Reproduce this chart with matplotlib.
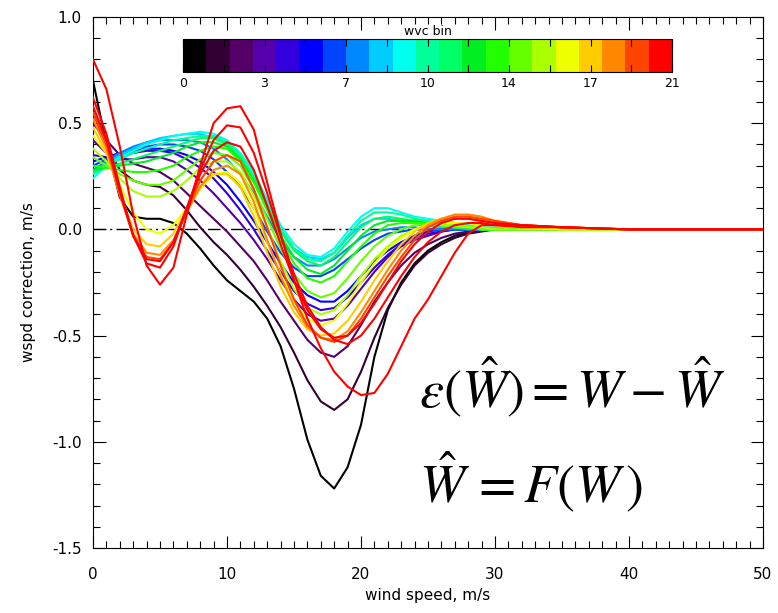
import matplotlib
matplotlib.use("Agg")
import matplotlib.pyplot as plt
from matplotlib.colors import ListedColormap, BoundaryNorm
from matplotlib.colorbar import ColorbarBase
from matplotlib.ticker import MultipleLocator

plt.rcParams["mathtext.fontset"] = "stix"

wspd = [0, 1, 2, 3, 4, 5, 6, 7, 8, 9, 10, 11, 12, 13, 14, 15, 16, 17, 18, 19,
        20, 21, 22, 23, 24, 25, 26, 27, 28, 29, 30, 32, 35, 40, 50]

bin0 = [0.70, 0.40, 0.15, 0.06, 0.05, 0.05, 0.03, -0.02, -0.09, -0.17, -0.24, -0.29, -0.34, -0.42, -0.55, -0.75, -0.99, -1.16, -1.22, -1.12, -0.92, -0.60, -0.38, -0.25, -0.16, -0.10, -0.06, -0.03, -0.015, 0.0, 0.0, 0.0, 0.0, 0.0, 0.0]
bin1 = [0.55, 0.40, 0.28, 0.23, 0.21, 0.20, 0.16, 0.09, 0.01, -0.06, -0.12, -0.19, -0.27, -0.36, -0.46, -0.58, -0.71, -0.81, -0.85, -0.80, -0.67, -0.51, -0.37, -0.26, -0.17, -0.11, -0.07, -0.04, -0.02, -0.01, 0.0, 0.0, 0.0, 0.0, 0.0]
bin2 = [0.50, 0.42, 0.35, 0.31, 0.29, 0.27, 0.23, 0.17, 0.11, 0.05, -0.01, -0.08, -0.15, -0.24, -0.34, -0.43, -0.52, -0.58, -0.60, -0.55, -0.45, -0.34, -0.25, -0.17, -0.11, -0.07, -0.04, -0.02, -0.01, 0.0, 0.0, 0.0, 0.0, 0.0, 0.0]
bin3 = [0.42, 0.36, 0.33, 0.33, 0.34, 0.34, 0.32, 0.28, 0.23, 0.17, 0.10, 0.03, -0.05, -0.14, -0.24, -0.33, -0.40, -0.43, -0.42, -0.36, -0.28, -0.20, -0.13, -0.08, -0.05, -0.03, -0.01, 0.0, 0.0, 0.0, 0.0, 0.0, 0.0, 0.0, 0.0]
bin4 = [0.35, 0.34, 0.35, 0.36, 0.37, 0.37, 0.36, 0.33, 0.29, 0.24, 0.17, 0.09, 0.00, -0.10, -0.20, -0.29, -0.35, -0.38, -0.37, -0.32, -0.25, -0.18, -0.12, -0.07, -0.04, -0.02, -0.01, 0.0, 0.0, 0.0, 0.0, 0.0, 0.0, 0.0, 0.0]
bin5 = [0.32, 0.34, 0.36, 0.37, 0.38, 0.38, 0.37, 0.35, 0.32, 0.27, 0.21, 0.13, 0.04, -0.06, -0.16, -0.25, -0.31, -0.34, -0.34, -0.29, -0.22, -0.15, -0.10, -0.06, -0.03, -0.01, 0.0, 0.0, 0.0, 0.0, 0.0, 0.0, 0.0, 0.0, 0.0]
bin6 = [0.30, 0.33, 0.36, 0.38, 0.39, 0.40, 0.40, 0.39, 0.37, 0.33, 0.27, 0.20, 0.10, -0.01, -0.11, -0.18, -0.22, -0.22, -0.19, -0.14, -0.09, -0.05, -0.02, -0.01, 0.0, 0.0, 0.0, 0.0, 0.0, 0.0, 0.0, 0.0, 0.0, 0.0, 0.0]
bin7 = [0.28, 0.32, 0.36, 0.39, 0.41, 0.42, 0.42, 0.42, 0.41, 0.38, 0.33, 0.26, 0.17, 0.06, -0.05, -0.13, -0.17, -0.17, -0.14, -0.09, -0.04, -0.01, 0.0, 0.01, 0.01, 0.0, 0.0, 0.0, 0.0, 0.0, 0.0, 0.0, 0.0, 0.0, 0.0]
bin8 = [0.26, 0.31, 0.35, 0.38, 0.41, 0.43, 0.44, 0.45, 0.45, 0.43, 0.40, 0.33, 0.24, 0.12, 0.00, -0.09, -0.13, -0.14, -0.11, -0.04, 0.02, 0.05, 0.05, 0.04, 0.03, 0.02, 0.01, 0.01, 0.0, 0.0, 0.0, 0.0, 0.0, 0.0, 0.0]
bin9 = [0.24, 0.30, 0.34, 0.37, 0.40, 0.42, 0.44, 0.45, 0.46, 0.45, 0.42, 0.36, 0.27, 0.14, 0.02, -0.07, -0.12, -0.13, -0.09, -0.01, 0.06, 0.10, 0.10, 0.08, 0.06, 0.05, 0.04, 0.03, 0.02, 0.01, 0.01, 0.0, 0.0, 0.0, 0.0]
bin10 = [0.26, 0.30, 0.33, 0.36, 0.38, 0.40, 0.42, 0.43, 0.44, 0.44, 0.41, 0.35, 0.25, 0.12, 0.00, -0.09, -0.14, -0.15, -0.11, -0.03, 0.04, 0.08, 0.08, 0.07, 0.05, 0.04, 0.03, 0.02, 0.01, 0.01, 0.0, 0.0, 0.0, 0.0, 0.0]
bin11 = [0.27, 0.29, 0.31, 0.33, 0.35, 0.37, 0.39, 0.41, 0.43, 0.43, 0.40, 0.34, 0.24, 0.11, -0.01, -0.10, -0.15, -0.17, -0.13, -0.06, 0.01, 0.05, 0.06, 0.05, 0.04, 0.03, 0.02, 0.01, 0.01, 0.0, 0.0, 0.0, 0.0, 0.0, 0.0]
bin12 = [0.28, 0.29, 0.30, 0.31, 0.32, 0.34, 0.36, 0.39, 0.41, 0.41, 0.39, 0.33, 0.23, 0.10, -0.03, -0.13, -0.19, -0.21, -0.17, -0.10, -0.03, 0.02, 0.04, 0.04, 0.04, 0.03, 0.02, 0.01, 0.01, 0.0, 0.0, 0.0, 0.0, 0.0, 0.0]
bin13 = [0.30, 0.29, 0.28, 0.27, 0.27, 0.28, 0.30, 0.34, 0.37, 0.39, 0.38, 0.32, 0.22, 0.09, -0.05, -0.16, -0.23, -0.25, -0.22, -0.15, -0.08, -0.02, 0.02, 0.03, 0.03, 0.03, 0.02, 0.01, 0.01, 0.0, 0.0, 0.0, 0.0, 0.0, 0.0]
bin14 = [0.34, 0.30, 0.26, 0.23, 0.21, 0.21, 0.23, 0.28, 0.33, 0.36, 0.35, 0.30, 0.19, 0.05, -0.09, -0.21, -0.29, -0.32, -0.30, -0.23, -0.15, -0.08, -0.03, 0.0, 0.02, 0.02, 0.02, 0.01, 0.01, 0.0, 0.0, 0.0, 0.0, 0.0, 0.0]
bin15 = [0.38, 0.32, 0.24, 0.18, 0.155, 0.155, 0.18, 0.23, 0.29, 0.32, 0.32, 0.27, 0.16, 0.01, -0.15, -0.28, -0.37, -0.40, -0.38, -0.31, -0.22, -0.14, -0.08, -0.03, 0.0, 0.02, 0.02, 0.02, 0.01, 0.01, 0.0, 0.0, 0.0, 0.0, 0.0]
bin16 = [0.44, 0.36, 0.21, 0.08, 0.0, -0.02, 0.02, 0.10, 0.19, 0.26, 0.27, 0.22, 0.10, -0.06, -0.21, -0.34, -0.42, -0.45, -0.43, -0.35, -0.25, -0.16, -0.09, -0.04, 0.0, 0.02, 0.03, 0.03, 0.03, 0.02, 0.02, 0.01, 0.0, 0.0, 0.0]
bin17 = [0.48, 0.36, 0.17, 0.0, -0.07, -0.08, -0.02, 0.10, 0.20, 0.26, 0.26, 0.20, 0.06, -0.11, -0.27, -0.39, -0.47, -0.50, -0.49, -0.43, -0.34, -0.24, -0.15, -0.07, -0.01, 0.03, 0.05, 0.05, 0.05, 0.04, 0.03, 0.02, 0.01, 0.0, 0.0]
bin18 = [0.52, 0.38, 0.16, -0.02, -0.11, -0.12, -0.05, 0.08, 0.20, 0.28, 0.30, 0.26, 0.13, -0.05, -0.22, -0.36, -0.46, -0.51, -0.52, -0.48, -0.39, -0.29, -0.19, -0.10, -0.03, 0.02, 0.05, 0.07, 0.07, 0.06, 0.04, 0.02, 0.01, 0.0, 0.0]
bin19 = [0.55, 0.40, 0.17, -0.03, -0.13, -0.14, -0.06, 0.09, 0.23, 0.32, 0.35, 0.32, 0.19, 0.01, -0.17, -0.33, -0.45, -0.51, -0.53, -0.50, -0.42, -0.32, -0.22, -0.13, -0.05, 0.01, 0.04, 0.06, 0.06, 0.05, 0.04, 0.02, 0.01, 0.0, 0.0]
bin20 = [0.58, 0.42, 0.18, -0.03, -0.14, -0.15, -0.06, 0.10, 0.26, 0.37, 0.41, 0.39, 0.28, 0.11, -0.07, -0.24, -0.38, -0.47, -0.51, -0.50, -0.44, -0.35, -0.25, -0.15, -0.07, -0.01, 0.03, 0.05, 0.05, 0.04, 0.03, 0.02, 0.01, 0.0, 0.0]
bin21 = [0.62, 0.45, 0.20, -0.03, -0.16, -0.18, -0.08, 0.10, 0.28, 0.42, 0.49, 0.48, 0.36, 0.17, -0.03, -0.21, -0.36, -0.46, -0.52, -0.54, -0.50, -0.42, -0.32, -0.22, -0.13, -0.06, -0.01, 0.02, 0.03, 0.03, 0.02, 0.02, 0.01, 0.0, 0.0]
bin22 = [0.80, 0.66, 0.39, 0.07, -0.17, -0.26, -0.18, 0.07, 0.30, 0.50, 0.57, 0.58, 0.47, 0.22, -0.02, -0.24, -0.42, -0.56, -0.67, -0.74, -0.78, -0.77, -0.68, -0.55, -0.42, -0.33, -0.22, -0.11, -0.02, 0.02, 0.02, 0.01, 0.01, 0.0, 0.0]

curves = [bin0, bin1, bin2, bin3, bin4, bin5, bin6, bin7, bin8, bin9, bin10, bin11,
          bin12, bin13, bin14, bin15, bin16, bin17, bin18, bin19, bin20, bin21, bin22]

# colour table of the wvc bin bar (21 segments, 0..21)
bin_colors = ["#000000", "#330033", "#550066", "#5500aa", "#3300dd", "#0000ff", "#0044ff",
              "#0088ff", "#00ccff", "#00ffee", "#00ff99", "#00ff66", "#00ee22", "#22ff00",
              "#66ff00", "#aaff00", "#eeff00", "#ffcc00", "#ff8800", "#ff4400", "#ff0000"]
cbar_ticks = [0, 3.5, 7, 10.5, 14, 17.5, 21]
cbar_labels = ["0", "3", "7", "10", "14", "17", "21"]


def main():
    fig = plt.figure(figsize=(7.78, 6.13), dpi=100)
    ax = fig.add_axes([93 / 778, 1 - 548 / 613, 670 / 778, 531 / 613])

    ax.plot([0, 50], [0, 0], color="black", lw=1.0, linestyle=(0, (9, 3, 1.5, 3)), zorder=1)
    for i, y in enumerate(curves):
        col = bin_colors[min(i, len(bin_colors) - 1)]
        ax.plot(wspd, y, color=col, lw=1.5, zorder=2 + i)

    ax.set_xlim(0, 50)
    ax.set_ylim(-1.5, 1.0)
    ax.xaxis.set_major_locator(MultipleLocator(10))
    ax.xaxis.set_minor_locator(MultipleLocator(1))
    ax.yaxis.set_major_locator(MultipleLocator(0.5))
    ax.yaxis.set_minor_locator(MultipleLocator(0.1))
    ax.tick_params(which="both", direction="in", top=True, right=True, labelsize=11, width=0.8)
    ax.tick_params(which="major", length=9)
    ax.tick_params(which="minor", length=5)
    ax.tick_params(axis="x", which="major", pad=14)
    ax.tick_params(axis="y", which="major", pad=8)
    ax.yaxis.set_major_formatter(plt.FuncFormatter(lambda v, p: "%.1f" % v))
    ax.set_xlabel("wind speed, m/s", fontsize=11, labelpad=4)
    ax.set_ylabel("wspd correction, m/s", fontsize=11, labelpad=12)

    # colour bar
    cax = fig.add_axes([183 / 778, 1 - 72 / 613, 489 / 778, 33 / 613])
    cmap = ListedColormap(bin_colors)
    norm = BoundaryNorm(list(range(22)), cmap.N)
    cb = ColorbarBase(cax, cmap=cmap, norm=norm, orientation="horizontal")
    cb.outline.set_linewidth(0.8)
    cb.set_ticks(cbar_ticks)
    cb.set_ticklabels(cbar_labels)
    cax.xaxis.set_minor_locator(MultipleLocator(1.75))
    cax.tick_params(which="both", direction="in", top=True, bottom=True, labelsize=9,
                    length=5, color="black", width=0.8)
    cax.set_title("wvc bin", fontsize=9, pad=3)

    fig.text(419 / 778, 1 - 408 / 613, r"$\varepsilon(\hat{W}) = W - \hat{W}$",
             fontsize=39, va="baseline", ha="left")
    fig.text(419 / 778, 1 - 503 / 613, r"$\hat{W}\, = F(W\,)$",
             fontsize=39, va="baseline", ha="left")

    fig.savefig("out.png", dpi=100)


if __name__ == "__main__":
    main()
